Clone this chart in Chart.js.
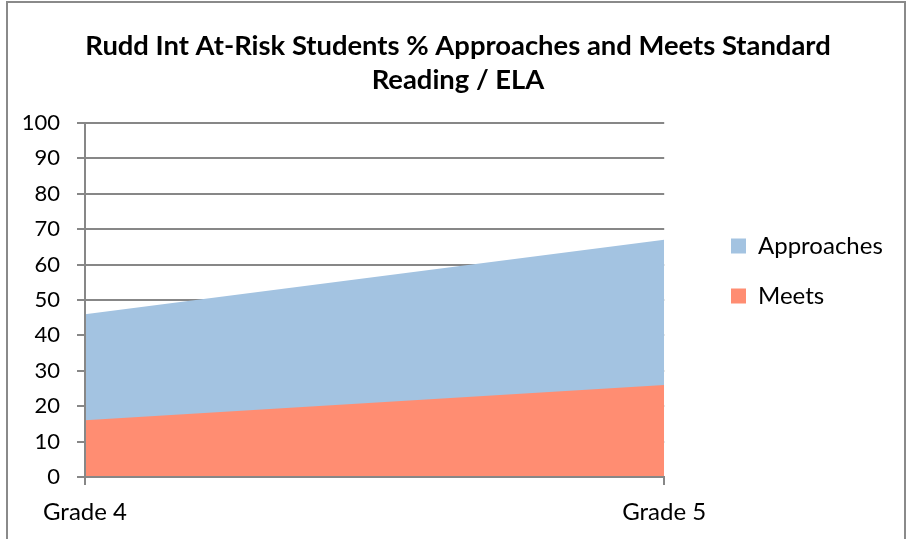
<!DOCTYPE html>
<html>
<head>
<meta charset="utf-8">
<script src="https://cdn.jsdelivr.net/npm/chart.js@4"></script>
<style>
  body { margin: 0; background: #fff; }
  #wrap { position: relative; width: 910px; height: 539px; overflow: hidden; }
  #frame { position: absolute; left: 6px; top: 1px; width: 896px; height: 600px; border: 2px solid #8a8a8a; pointer-events: none; }
  canvas { position: absolute; left: 0; top: 0; }
</style>
</head>
<body>
<div id="wrap">
  <canvas id="chart" width="910" height="539"></canvas>
  <div id="frame"></div>
</div>
<script>
const grades = ["Grade 4", "Grade 5"];
const approaches = [46, 67];
const meets = [16, 26];

const gridGray = "#878787";

Chart.defaults.font.family = "Lato";
Chart.defaults.color = "#000";

// put legend and title where the original has them, without changing plot size
const boxPos = {
	id: "boxPos",
	afterLayout(chart) {
		const l = chart.legend;
		const w = l.width, h = l.height;
		l.left = 731 - 26;
		l.right = l.left + w;
		l.top = 246 - 12 - 26;
		l.bottom = l.top + h;
		const t = chart.titleBlock;
		t.left = 0;
		t.right = 916;
		t.width = 916;
	},
};

new Chart(document.getElementById("chart"), {
	type: "line",
	data: {
		labels: grades,
		datasets: [
			{
				label: "Meets",
				data: meets,
				backgroundColor: "#ff8d72",
				borderWidth: 0,
				pointRadius: 0,
				fill: "origin",
				tension: 0,
			},
			{
				label: "Approaches",
				data: approaches,
				backgroundColor: "#a3c3e1",
				borderWidth: 0,
				pointRadius: 0,
				fill: "origin",
				tension: 0,
			},
		],
	},
	options: {
		responsive: false,
		devicePixelRatio: 1,
		animation: false,
		layout: { padding: { left: 0, right: 58, top: 0, bottom: 0 } },
		plugins: {
			title: {
				display: true,
				text: ["Rudd Int At-Risk Students % Approaches and Meets Standard", "Reading / ELA"],
				font: { size: 27.4, weight: "bold", lineHeight: "34px" },
				padding: { top: 29, bottom: 26 },
				color: "#000",
			},
			legend: {
				position: "right",
				align: "start",
				labels: {
					boxWidth: 15,
					boxHeight: 15,
					padding: 26,
					font: { size: 24 },
					color: "#000",
					sort: (a, b) => b.datasetIndex - a.datasetIndex,
				},
			},
			tooltip: { enabled: false },
		},
		scales: {
			x: {
				offset: false,
				grid: { drawOnChartArea: false, tickLength: 8, color: gridGray, lineWidth: 2 },
				border: { color: gridGray, width: 2, z: 1 },
				ticks: { font: { size: 24 }, padding: 13, maxRotation: 0, color: "#000" },
				afterFit: (scale) => { scale.height = 62; },
			},
			y: {
				min: 0,
				max: 100,
				ticks: { stepSize: 10, font: { size: 22 }, padding: 17, color: "#000" },
				grid: { color: gridGray, lineWidth: 2, tickLength: 8 },
				border: { color: gridGray, width: 2, z: 1 },
				afterFit: (scale) => { scale.width = 85; },
			},
		},
	},
	plugins: [boxPos],
});
</script>
</body>
</html>
